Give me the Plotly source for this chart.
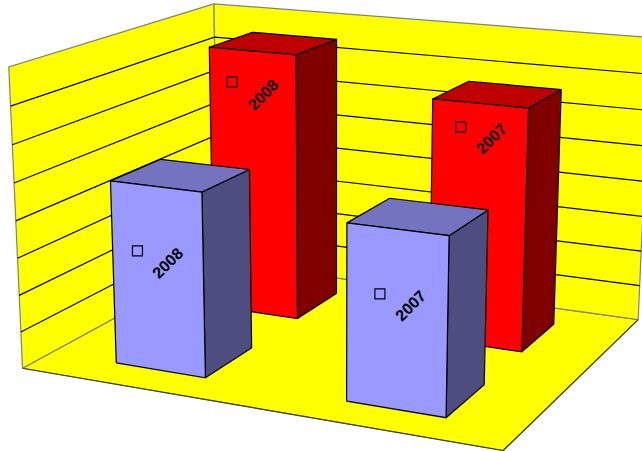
import numpy as np
import plotly.graph_objects as go

categories = ["2008", "2007"]
front_values = [4.95, 4.62]
back_values = [7.52, 6.66]
axis_max = 8

# where the box corners of the 3d chart land on the page: (x, y, value) -> pixel
box_world = [(0, 0, 0), (1, 0, 0), (1, 1, 0), (0, 1, 0), (0, 0, 8), (0, 1, 8), (1, 1, 8)]
box_pixel = [(22, 368.5), (503, 450.5), (638, 319.5), (219, 261.5), (9.5, 66.7), (213, 4), (651, 37.7)]

rows = []
rhs = []
for (X, Y, Z), (u, v) in zip(box_world, box_pixel):
    rows.append([X, Y, Z, 1, 0, 0, 0, 0, -u * X, -u * Y, -u * Z])
    rows.append([0, 0, 0, 0, X, Y, Z, 1, -v * X, -v * Y, -v * Z])
    rhs += [u, v]
P = np.append(np.linalg.lstsq(np.array(rows, float), np.array(rhs, float), rcond=None)[0], 1).reshape(3, 4)


def project(points):
    pts = np.array([[X, Y, Z, 1] for X, Y, Z in points], float).T
    q = P @ pts
    return q[0] / q[2], q[1] / q[2]


fig = go.Figure()


def add_face(points, fill, line="black", width=1.2):
    xs, ys = project(points + points[:1])
    fig.add_trace(go.Scatter(x=xs, y=ys, mode="lines", fill="toself", fillcolor=fill,
                             line=dict(color=line, width=width), hoverinfo="skip", showlegend=False))


def add_line(points, color="black", width=1.2):
    xs, ys = project(points)
    fig.add_trace(go.Scatter(x=xs, y=ys, mode="lines", line=dict(color=color, width=width),
                             hoverinfo="skip", showlegend=False))


# floor and walls
add_face([(0, 0, 0), (1, 0, 0), (1, 1, 0), (0, 1, 0)], "#FFFF00", "#808080")
add_face([(0, 0, 0), (0, 1, 0), (0, 1, axis_max), (0, 0, axis_max)], "#FFFF00", "#808080")
add_face([(0, 1, 0), (1, 1, 0), (1, 1, axis_max), (0, 1, axis_max)], "#FFFF00", "#808080")
add_line([(0, 0, 0), (1, 0, 0), (1, 1, 0)], "#404040")
for z in range(1, axis_max):
    add_line([(0, 0, z), (0, 1, z), (1, 1, z)])

bar_w = 0.2
bar_d = 0.24


def add_bar(i, depth, value, colors):
    x0 = 0.25 + 0.5 * i - bar_w / 2
    x1 = x0 + bar_w
    y0 = depth - bar_d / 2
    y1 = y0 + bar_d
    add_face([(x1, y0, 0), (x1, y1, 0), (x1, y1, value), (x1, y0, value)], colors[1])
    add_face([(x0, y0, value), (x1, y0, value), (x1, y1, value), (x0, y1, value)], colors[2])
    add_face([(x0, y0, 0), (x1, y0, 0), (x1, y0, value), (x0, y0, value)], colors[0])
    return project([(x0, y0, value)])


red = ["#FF0000", "#800000", "#BF0000"]
blue = ["#9999FF", "#4D4D80", "#7373BF"]

# label key offsets from the top left corner of each front face
back_offset = [(23, 35), (28, 28)]
front_offset = [(27, 70), (33, 71)]
label_shift = (31, 12)

corners = []
for i in range(2):
    corners.append(add_bar(i, 0.75, back_values[i], red) + back_offset[i] + (categories[i],))
for i in range(2):
    corners.append(add_bar(i, 0.25, front_values[i], blue) + front_offset[i] + (categories[i],))

for cx, cy, dx, dy, name in corners:
    kx = cx[0] + dx
    ky = cy[0] + dy
    fig.add_trace(go.Scatter(x=[kx], y=[ky], mode="markers", hoverinfo="skip", showlegend=False,
                             marker=dict(symbol="square-open", size=10, color="black", line=dict(width=1.2, color="black"))))
    fig.add_annotation(x=kx + label_shift[0], y=ky + label_shift[1], text="<b>" + name + "</b>", textangle=-45, showarrow=False,
                       font=dict(family="Liberation Sans", size=16, color="black"))

fig.update_layout(width=642, height=451, margin=dict(l=0, r=0, t=0, b=0), autosize=False,
                  paper_bgcolor="white", plot_bgcolor="white", showlegend=False,
                  xaxis=dict(range=[0, 642], visible=False, fixedrange=True),
                  yaxis=dict(range=[451, 0], visible=False, fixedrange=True))

fig.write_html("out.html", config=dict(displayModeBar=False), post_script="document.body.style.margin='0';")
